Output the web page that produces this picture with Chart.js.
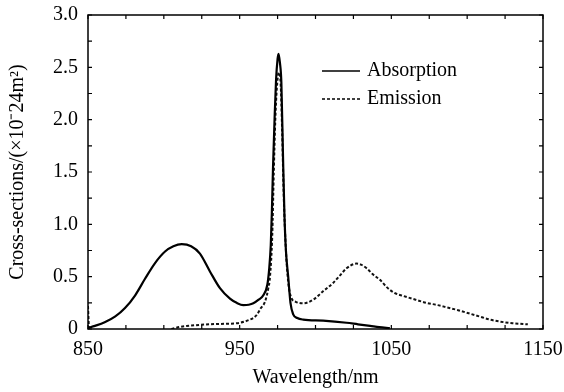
<!DOCTYPE html>
<html><head><meta charset="utf-8">
<script src="https://cdn.jsdelivr.net/npm/chart.js@4/dist/chart.umd.min.js"></script>
<style>html,body{margin:0;padding:0;background:#fff}#wrap{width:564px;height:392px}</style>
</head><body><div id="wrap"><canvas id="c" width="564" height="392"></canvas></div>
<script>
const absWl  = [850,854.6,861,868,874.4,881,887.6,894.2,900.8,906.3,911.8,918,923.8,930.4,937,943.6,948,952.4,956,959,962.5,965.5,968.2,969.5,970.5,971.2,972,973,974,975,975.6,976.5,977.5,978.5,979.5,980.5,982,983.5,985.3,988,991.9,1005,1020.5,1028,1036,1042,1049];
const absVal = [0.01,0.03,0.064,0.12,0.20,0.32,0.48,0.63,0.74,0.79,0.81,0.79,0.72,0.55,0.39,0.29,0.25,0.228,0.232,0.245,0.28,0.32,0.42,0.58,0.8,1.1,1.55,2.0,2.38,2.58,2.63,2.55,2.35,1.7,1.1,0.75,0.5,0.25,0.14,0.105,0.09,0.08,0.06,0.045,0.03,0.018,0.008];
const emWl  = [850,850.6,852,905,910.6,920,930.4,940,948,955,961,964,966.7,968.9,970,971.5,972.5,973.5,974.5,975.8,977,978,979,980.5,982,984,987,991.9,998.5,1005,1011.6,1016,1020.5,1027,1030,1033.7,1038,1042.5,1047,1052,1058,1066,1073,1080,1087,1094,1101,1108,1115,1122,1130,1140];
const emVal = [0.22,0.0,null,0.0,0.02,0.035,0.045,0.05,0.055,0.08,0.13,0.2,0.26,0.39,0.5,0.9,1.5,2.0,2.3,2.45,2.35,1.9,1.3,0.75,0.45,0.3,0.26,0.245,0.28,0.36,0.44,0.51,0.58,0.625,0.615,0.58,0.52,0.47,0.40,0.345,0.315,0.28,0.25,0.23,0.205,0.18,0.15,0.12,0.09,0.07,0.055,0.045];
const seriesNames = ['Absorption','Emission'];
const xTicks = [850,950,1050,1150];
const yTicks = [0,0.5,1.0,1.5,2.0,2.5,3.0];

const FONT = '"Liberation Serif","Times New Roman",serif';
const pts = (xs, ys) => xs.map((x,i)=>({x, y: ys[i]}));

const frame = {
  id:'frame',
  afterDraw(chart){
    const {ctx, chartArea:a, scales:{x,y}} = chart;
    ctx.save();
    ctx.strokeStyle='#000'; ctx.lineWidth=1.5;
    ctx.strokeRect(a.left, a.top, a.right-a.left, a.bottom-a.top);
    ctx.lineWidth=1.2;
    for(let v=850; v<=1150; v+=25){
      const px = x.getPixelForValue(v);
      const L = 4;
      ctx.beginPath(); ctx.moveTo(px,a.bottom); ctx.lineTo(px,a.bottom-L);
      ctx.moveTo(px,a.top); ctx.lineTo(px,a.top+L); ctx.stroke();
    }
    for(let v=0; v<=3.0001; v+=0.25){
      const py = y.getPixelForValue(v);
      const L = 4;
      ctx.beginPath(); ctx.moveTo(a.left,py); ctx.lineTo(a.left+L,py);
      ctx.moveTo(a.right,py); ctx.lineTo(a.right-L,py); ctx.stroke();
    }
    // legend
    ctx.font = '20px '+FONT; ctx.fillStyle='#000'; ctx.textBaseline='middle'; ctx.textAlign='left';
    const lx = a.left+234, ly = a.top+56, gap=28;
    ctx.lineWidth=1.5; ctx.setLineDash([]);
    ctx.beginPath(); ctx.moveTo(lx,ly); ctx.lineTo(lx+38,ly); ctx.stroke();
    ctx.fillText(seriesNames[0], lx+45, ly);
    ctx.setLineDash([3,2]);
    ctx.beginPath(); ctx.moveTo(lx,ly+gap); ctx.lineTo(lx+38,ly+gap); ctx.stroke();
    ctx.setLineDash([]);
    ctx.fillText(seriesNames[1], lx+45, ly+gap);
    ctx.restore();
  }
};

new Chart(document.getElementById('c'), {
  type:'line',
  data:{datasets:[
    {label:seriesNames[0], data:pts(absWl,absVal), borderColor:'#000', borderWidth:2.2, pointRadius:0, cubicInterpolationMode:'monotone', fill:false},
    {label:seriesNames[1], data:pts(emWl,emVal), borderColor:'#111', borderWidth:2, borderDash:[3,2], pointRadius:0, cubicInterpolationMode:'monotone', fill:false, spanGaps:false}
  ]},
  options:{
    responsive:false, animation:false,
    layout:{padding:{left:0, top:15, right:21, bottom:0}},
    plugins:{legend:{display:false}, tooltip:{enabled:false}},
    scales:{
      x:{type:'linear', min:850, max:1150,
        afterBuildTicks(s){ s.ticks = xTicks.map(v=>({value:v})); },
        afterFit(s){ s.height = 63; s.paddingLeft = 0; s.paddingRight = 0; },
        grid:{display:false, drawTicks:false}, border:{display:false},
        ticks:{color:'#000', font:{family:FONT, size:20}, padding:9, maxRotation:0, autoSkip:false, callback:v=>String(v)},
        title:{display:true, text:'Wavelength/nm', color:'#000', font:{family:FONT, size:20}, padding:{top:0,bottom:2}}
      },
      y:{type:'linear', min:0, max:3,
        afterBuildTicks(s){ s.ticks = yTicks.map(v=>({value:v})); },
        afterFit(s){ s.width = 88; s.paddingTop = 0; s.paddingBottom = 0; },
        grid:{display:false, drawTicks:false}, border:{display:false},
        ticks:{color:'#000', font:{family:FONT, size:20}, padding:10, callback:v=> v===0?'0':v.toFixed(1)},
        title:{display:true, text:'Cross-sections/(×10⁻24m²)', color:'#000', font:{family:FONT, size:20}, padding:{top:6,bottom:0}}
      }
    }
  },
  plugins:[frame]
});
</script></body></html>
